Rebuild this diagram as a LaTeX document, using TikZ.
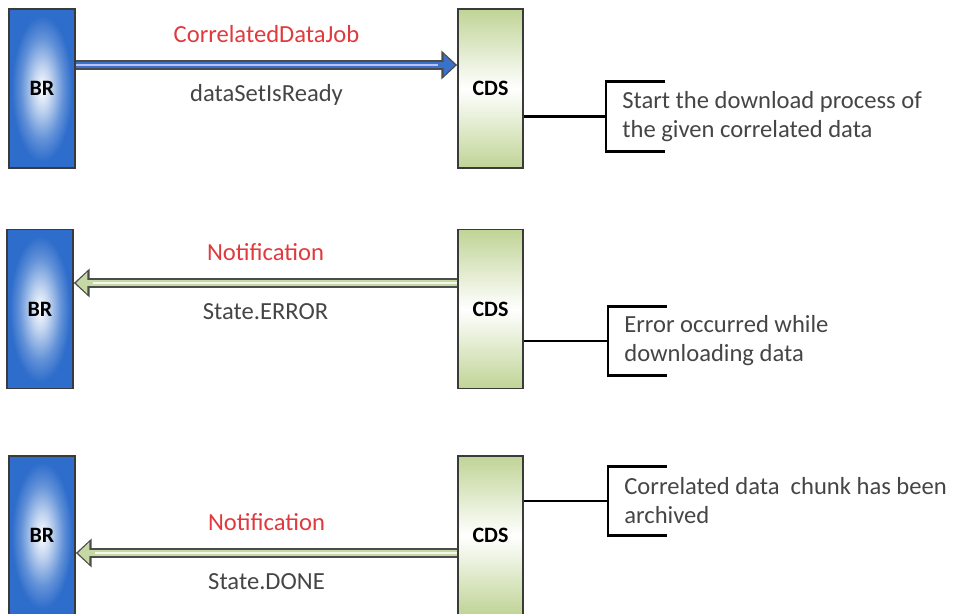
\documentclass[tikz,border=0pt]{standalone}
\usepackage{fontspec}
\setmainfont{Carlito}
\usetikzlibrary{arrows.meta, positioning}

\definecolor{brblue}{HTML}{2E6DCB}
\definecolor{cdsgreen}{HTML}{C0D496}
\definecolor{edgegray}{HTML}{3A3A3A}
\definecolor{msgred}{HTML}{E0393E}
\definecolor{txtgray}{HTML}{454545}
\definecolor{arrblue}{HTML}{3A72CA}
\definecolor{arrgreen}{HTML}{C6D8A3}

\pgfdeclareradialshading{brshade}{\pgfpoint{0bp}{0bp}}{%
  color(0bp)=(white); color(7bp)=(brblue!30!white); color(16bp)=(brblue!75!white);
  color(23bp)=(brblue); color(50bp)=(brblue)}

\begin{document}
\begin{tikzpicture}[
  x=0.02cm, y=-0.02cm,
  font=\fontsize{14}{16.5}\selectfont,
  brbox/.style   = {draw=edgegray, line width=1pt, shading=brshade,
                    minimum width=1.32cm, minimum height=3.18cm,
                    font=\fontsize{12.5}{14}\selectfont\bfseries},
  cdsbox/.style  = {draw=edgegray, line width=1pt,
                    top color=cdsgreen, bottom color=cdsgreen, middle color=white,
                    minimum width=1.3cm, minimum height=3.18cm,
                    font=\fontsize{12.5}{14}\selectfont\bfseries},
  msg/.style     = {text=msgred},
  statelbl/.style= {text=txtgray},
  note/.style    = {anchor=west, align=left, text=txtgray,
                    inner xsep=0.32cm, minimum height=1.38cm},
  brk/.style     = {line width=1.7pt, black},
  sendarr/.style = {line width=3.1pt, draw=arrblue, shorten >=1.2pt,
                    -{Triangle[length=6.5pt, width=12pt]},
                    preaction={draw=black!70, line width=5.2pt, shorten >=0pt,
                               -{Triangle[length=9pt, width=16pt]}},
                    postaction={draw=blue!25!white, line width=0.8pt, -, shorten >=11pt}},
  backarr/.style = {line width=3.1pt, draw=arrgreen, shorten >=1.2pt,
                    -{Triangle[length=6.5pt, width=12pt]},
                    preaction={draw=black!70, line width=5.2pt, shorten >=0pt,
                               -{Triangle[length=9pt, width=16pt]}},
                    postaction={draw=white!80!arrgreen, line width=0.8pt, -, shorten >=11pt}}
]
\useasboundingbox (0,0) rectangle (957,614);

% first exchange: job sent to CDS
\node[brbox]  (br1)  at (42,88.5)   {BR};
\node[cdsbox] (cds1) at (490.5,88.5) {CDS};
\node[note]   (note1) at (606,116.5) {Start the download process of\\the given correlated data};

% second exchange: error reported back
\node[brbox]  (br2)  at (40,309)    {BR};
\node[cdsbox] (cds2) at (490.5,309) {CDS};
\node[note]   (note2) at (608,341)  {Error occurred while\\downloading data};

% third exchange: done reported back
\node[brbox]  (br3)  at (42,535.5)   {BR};
\node[cdsbox] (cds3) at (490.5,535.5) {CDS};
\node[note]   (note3) at (608,501)   {Correlated data\ \ chunk has been\\archived};

\draw[sendarr] ([yshift=0.47cm]br1.east) -- ([yshift=0.47cm]cds1.west)
  node[midway, yshift=0.62cm, msg] {CorrelatedDataJob}
  node[midway, yshift=-0.6cm, statelbl] {dataSetIsReady};
\draw[backarr] ([yshift=0.52cm]cds2.west) -- ([yshift=0.52cm]br2.east)
  node[midway, yshift=0.62cm, msg] {Notification}
  node[midway, yshift=-0.58cm, statelbl] {State.ERROR};
\draw[backarr] ([yshift=-0.35cm]cds3.west) -- ([yshift=-0.35cm]br3.east)
  node[midway, yshift=0.62cm, msg] {Notification}
  node[midway, yshift=-0.58cm, statelbl] {State.DONE};

% brackets round the notes
\foreach \n in {1,2,3} {
  \draw[brk] (cds\n.east |- note\n.west) -- (note\n.west);
  \draw[brk] ([xshift=1.18cm]note\n.north west) -- (note\n.north west)
    -- (note\n.south west) -- ([xshift=1.18cm]note\n.south west);
}
\end{tikzpicture}
\end{document}
